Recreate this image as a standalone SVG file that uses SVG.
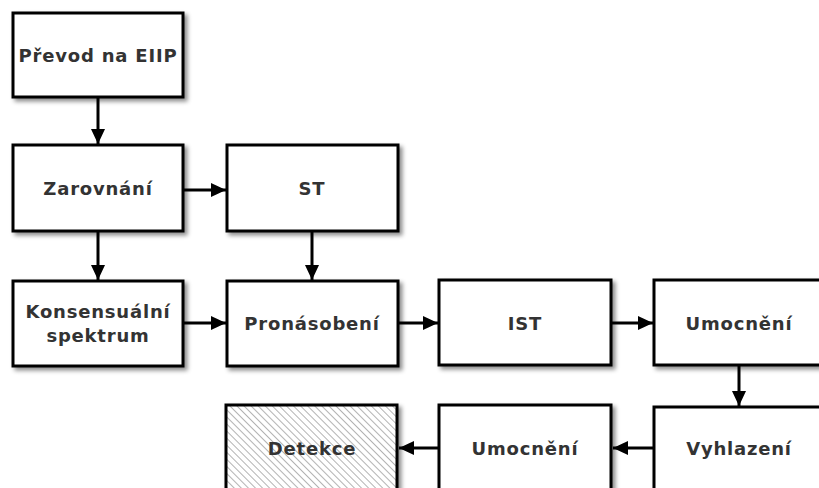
<svg xmlns="http://www.w3.org/2000/svg" width="819" height="488" viewBox="0 0 819 488">
<style>
.box{fill:#fff;stroke:#000;stroke-width:3;filter:url(#sh)}
.hatch{fill:url(#hp);stroke:#000;stroke-width:3;filter:url(#sh)}
.lbl{font-family:"DejaVu Sans",Verdana,sans-serif;font-weight:bold;font-size:18px;letter-spacing:0.8px;fill:#333;text-anchor:middle;dominant-baseline:central}
.con{stroke:#000;stroke-width:3;fill:none;marker-end:url(#ah)}
</style>
<defs>
<filter id="sh" x="-10%" y="-10%" width="130%" height="130%">
<feDropShadow dx="3" dy="3" stdDeviation="2" flood-color="#000" flood-opacity="0.45"/>
</filter>
<pattern id="hp" patternUnits="userSpaceOnUse" width="5" height="5" patternTransform="rotate(-45)">
<rect width="5" height="5" fill="#fff"/>
<line x1="0" y1="0" x2="0" y2="5" stroke="#8a8a8a" stroke-width="1.3"/>
</pattern>
<marker id="ah" markerUnits="userSpaceOnUse" markerWidth="16" markerHeight="16" refX="15" refY="8" orient="auto">
<path d="M0,1 L15,8 L0,15 Z" fill="#000"/>
</marker>
</defs>
<g id="connectors">
<line class="con" x1="98" y1="97" x2="98" y2="144"/>
<line class="con" x1="183" y1="190" x2="226" y2="190"/>
<line class="con" x1="98" y1="231" x2="98" y2="280"/>
<line class="con" x1="312" y1="231" x2="312" y2="280"/>
<line class="con" x1="183" y1="323" x2="226" y2="323"/>
<line class="con" x1="398" y1="323" x2="438" y2="323"/>
<line class="con" x1="611" y1="323" x2="653" y2="323"/>
<line class="con" x1="739" y1="365" x2="739" y2="406"/>
<line class="con" x1="654" y1="448" x2="613" y2="448"/>
<line class="con" x1="439" y1="448" x2="399" y2="448"/>
</g>
<g id="n1"><rect class="box" x="13" y="13" width="170" height="84"/><text class="lbl" x="98" y="55">Převod na EIIP</text></g>
<g id="n2"><rect class="box" x="13" y="145" width="170" height="86"/><text class="lbl" x="98" y="188">Zarovnání</text></g>
<g id="n3"><rect class="box" x="227" y="145" width="171" height="86"/><text class="lbl" x="312" y="188">ST</text></g>
<g id="n4"><rect class="box" x="13" y="281" width="170" height="85"/><text class="lbl" x="98" y="311">Konsensuální</text><text class="lbl" x="98" y="335">spektrum</text></g>
<g id="n5"><rect class="box" x="227" y="281" width="171" height="85"/><text class="lbl" x="312" y="323">Pronásobení</text></g>
<g id="n6"><rect class="box" x="439" y="280" width="172" height="85"/><text class="lbl" x="525" y="323">IST</text></g>
<g id="n7"><rect class="box" x="654" y="280" width="172" height="85"/><text class="lbl" x="739" y="323">Umocnění</text></g>
<g id="n8"><rect class="box" x="654" y="407" width="172" height="90"/><text class="lbl" x="739" y="448">Vyhlazení</text></g>
<g id="n9"><rect class="box" x="439" y="405" width="172" height="90"/><text class="lbl" x="525" y="448">Umocnění</text></g>
<g id="n10"><rect class="hatch" x="226" y="405" width="171" height="90"/><text class="lbl" x="312" y="448">Detekce</text></g>
</svg>
